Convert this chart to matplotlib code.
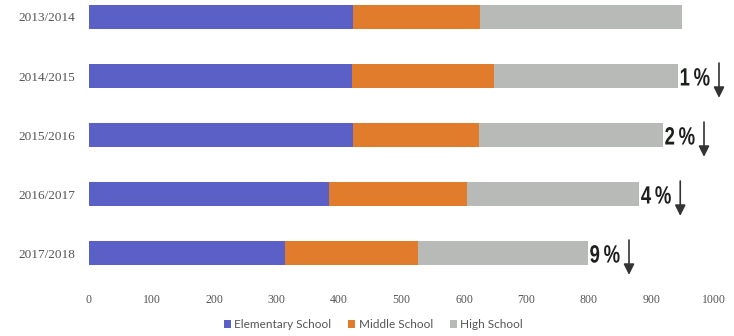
import matplotlib.pyplot as plt
from matplotlib.textpath import TextPath
from matplotlib.patches import PathPatch
from matplotlib.font_manager import FontProperties
from matplotlib.transforms import Affine2D, ScaledTranslation

years = ['2013/2014', '2014/2015', '2015/2016', '2016/2017', '2017/2018']
elementary = [422, 421, 422, 384, 314]
middle = [204, 227, 202, 221, 212]
high = [322, 294, 294, 275, 272]
drops = ['', '1%', '2%', '4%', '9%']

blue = '#5a60c6'
orange = '#e07c2c'
gray = '#b7bab7'

fig = plt.figure(figsize=(7.34, 3.36), dpi=100)
ax = fig.add_axes([89 / 734, 1 - 283 / 336, 625 / 734, 283 / 336])

pos = list(range(len(years)))
h = 0.41
left2 = [e + m for e, m in zip(elementary, middle)]
ax.barh(pos, elementary, height=h, color=blue, label='Elementary School')
ax.barh(pos, middle, left=elementary, height=h, color=orange, label='Middle School')
ax.barh(pos, high, left=left2, height=h, color=gray, label='High School')

# percentage drop labels (condensed bold) with down arrows
fp = FontProperties(family='Liberation Sans', weight='bold')
size = 18
for i in pos:
    if not drops[i]:
        continue
    total = elementary[i] + middle[i] + high[i]
    tp = TextPath((0, 0), drops[i].replace('%', '\u2009%'), size=size, prop=fp)
    tr = (Affine2D().translate(0, -0.38 * size).scale(0.74 / 72, 1 / 72)
          + fig.dpi_scale_trans
          + ScaledTranslation(total + 3, i, ax.transData))
    fig.patches.append(PathPatch(tp, transform=tr, color='#1e1e1e', lw=0))
    ax.annotate('', xy=(total + 66, i + 0.37), xytext=(total + 66, i - 0.22),
                annotation_clip=False,
                arrowprops=dict(arrowstyle='-|>', color='#333333', lw=1.2,
                                mutation_scale=16, shrinkA=0, shrinkB=0))

ax.set_xlim(0, 1000)
ax.set_ylim(4.508, -0.288)
ax.set_xticks(range(0, 1001, 100))
ax.set_yticks(pos)
ax.set_yticklabels(years)
for lab in ax.get_xticklabels():
    lab.set_family('Liberation Serif')
    lab.set_fontsize(8.5)
    lab.set_color('#555555')
for lab in ax.get_yticklabels():
    lab.set_family('Liberation Serif')
    lab.set_fontsize(9.5)
    lab.set_color('#555555')
ax.tick_params(length=0)
ax.tick_params(axis='x', pad=8)
ax.tick_params(axis='y', pad=10)
for s in ax.spines.values():
    s.set_visible(False)

ax.legend(loc='upper center', bbox_to_anchor=(0.455, -0.09), ncol=3, frameon=False,
          handlelength=0.6, handleheight=0.6, handletextpad=0.3, columnspacing=1.4,
          prop={'family': 'Lato', 'size': 8.5}, labelcolor='#555555')

fig.savefig('out.png', dpi=100)
